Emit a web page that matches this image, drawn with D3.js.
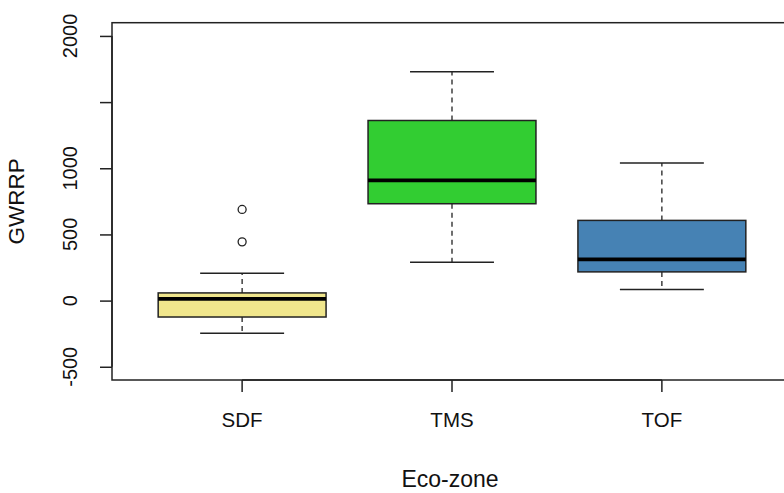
<!DOCTYPE html>
<html>
<head>
<meta charset="utf-8">
<script src="https://cdn.jsdelivr.net/npm/d3@7"></script>
<style>
  html, body { margin: 0; padding: 0; background: #fff; }
  svg { display: block; font-family: "Liberation Sans", Arial, sans-serif; }
</style>
</head>
<body>
<svg id="chart" width="784" height="493"></svg>
<script>
// Groundwater recharge potential by eco-zone: five-number summaries per zone
const categories   = ["SDF", "TMS", "TOF"];
const whiskerLow   = [-247, 290, 83];
const q1           = [-124, 732, 217];
const median       = [13, 909, 311];
const q3           = [58, 1361, 606];
const whiskerHigh  = [207, 1730, 1040];
const outliers     = [[444, 689], [], []];
const fills        = ["#F0E68C", "#32CD32", "#4682B4"];
const yTicks       = [-500, 0, 500, 1000, 1500, 2000];
const yTickLabels  = ["-500", "0", "500", "1000", "", "2000"];

const svg = d3.select("#chart");
const plot = { left: 112, right: 792, top: 22.7, bottom: 380 };
const ink = "#222";

// y range padded 4% each side, as in R's default axis style
const yLo = -500, yHi = 2000, pad = (yHi - yLo) * 0.04;
const y = d3.scaleLinear().domain([yLo - pad, yHi + pad]).range([plot.bottom, plot.top]);
const x = d3.scaleBand().domain(categories).range([plot.left, plot.right])
  .paddingInner(0).paddingOuter(0.12);
const cx = c => x(c) + x.bandwidth() / 2;
const boxW = x.bandwidth() * 0.8;
const capW = boxW / 2;

const rows = categories.map((c, i) => ({
  c, lo: whiskerLow[i], q1: q1[i], med: median[i], q3: q3[i], hi: whiskerHigh[i],
  out: outliers[i], fill: fills[i]
}));

const g = svg.append("g");

// dashed whiskers
g.selectAll(".whisk-up").data(rows).enter().append("line")
  .attr("x1", d => cx(d.c)).attr("x2", d => cx(d.c))
  .attr("y1", d => y(d.q3)).attr("y2", d => y(d.hi))
  .attr("stroke", ink).attr("stroke-width", 1.3).attr("stroke-dasharray", "5,4");
g.selectAll(".whisk-dn").data(rows).enter().append("line")
  .attr("x1", d => cx(d.c)).attr("x2", d => cx(d.c))
  .attr("y1", d => y(d.q1)).attr("y2", d => y(d.lo))
  .attr("stroke", ink).attr("stroke-width", 1.3).attr("stroke-dasharray", "5,4");

// whisker caps
["hi", "lo"].forEach(k => {
  g.selectAll(".cap-" + k).data(rows).enter().append("line")
    .attr("x1", d => cx(d.c) - capW / 2).attr("x2", d => cx(d.c) + capW / 2)
    .attr("y1", d => y(d[k])).attr("y2", d => y(d[k]))
    .attr("stroke", ink).attr("stroke-width", 1.5);
});

// boxes
g.selectAll(".box").data(rows).enter().append("rect")
  .attr("x", d => cx(d.c) - boxW / 2).attr("width", boxW)
  .attr("y", d => y(d.q3)).attr("height", d => y(d.q1) - y(d.q3))
  .attr("fill", d => d.fill).attr("stroke", ink).attr("stroke-width", 1.5);

// medians
g.selectAll(".med").data(rows).enter().append("line")
  .attr("x1", d => cx(d.c) - boxW / 2).attr("x2", d => cx(d.c) + boxW / 2)
  .attr("y1", d => y(d.med)).attr("y2", d => y(d.med))
  .attr("stroke", "#000").attr("stroke-width", 3.8);

// outliers
rows.forEach(d => {
  g.selectAll(null).data(d.out).enter().append("circle")
    .attr("cx", cx(d.c)).attr("cy", v => y(v)).attr("r", 4)
    .attr("fill", "none").attr("stroke", ink).attr("stroke-width", 1.3);
});

// plot frame
svg.append("rect")
  .attr("x", plot.left).attr("y", plot.top)
  .attr("width", plot.right - plot.left).attr("height", plot.bottom - plot.top)
  .attr("fill", "none").attr("stroke", ink).attr("stroke-width", 1.5);

// y axis
const yAxis = svg.append("g").attr("transform", `translate(${plot.left},0)`)
  .call(d3.axisLeft(y).tickValues(yTicks).tickSize(12).tickFormat(""));
yAxis.select(".domain").attr("d", `M0,${y(yTicks[0])}V${y(yTicks[yTicks.length - 1])}`)
  .attr("stroke", ink).attr("stroke-width", 1.5);
yAxis.selectAll(".tick line").attr("stroke", ink).attr("stroke-width", 1.5);
svg.append("g").selectAll("text").data(yTicks).enter().append("text")
  .attr("transform", (v) => `translate(77,${y(v)}) rotate(-90)`)
  .attr("text-anchor", "middle").attr("font-size", 20).attr("fill", "#111")
  .text((v, i) => yTickLabels[i]);

// x axis
const xAxis = svg.append("g").attr("transform", `translate(0,${plot.bottom})`)
  .call(d3.axisBottom(x).tickSize(12).tickFormat(""));
xAxis.select(".domain").attr("d", `M${cx(categories[0])},0H${cx(categories[2])}`)
  .attr("stroke", ink).attr("stroke-width", 1.5);
xAxis.selectAll(".tick line").attr("stroke", ink).attr("stroke-width", 1.5);
svg.append("g").selectAll("text").data(categories).enter().append("text")
  .attr("x", c => cx(c)).attr("y", 426.5)
  .attr("text-anchor", "middle").attr("font-size", 20.5).attr("fill", "#111")
  .text(c => c);

// axis titles
svg.append("text").attr("x", (plot.left + plot.right) / 2 - 2).attr("y", 487)
  .attr("text-anchor", "middle").attr("font-size", 23).attr("fill", "#111")
  .text("Eco-zone");
svg.append("text").attr("transform", `translate(24,${(plot.top + plot.bottom) / 2}) rotate(-90)`)
  .attr("text-anchor", "middle").attr("font-size", 22.5).attr("fill", "#111")
  .text("GWRRP");
</script>
</body>
</html>
